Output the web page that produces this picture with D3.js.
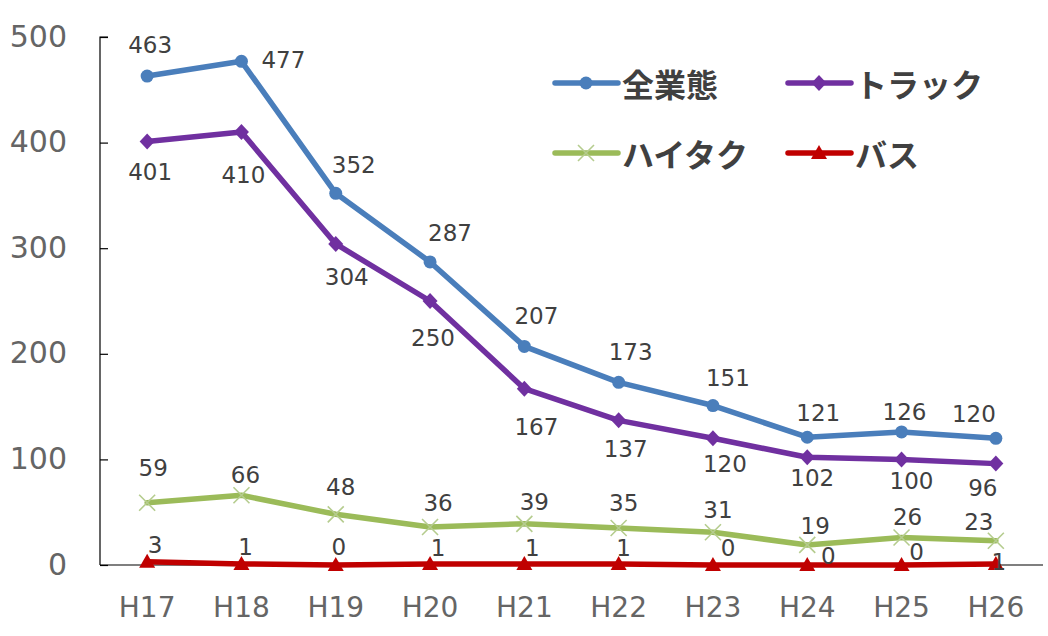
<!DOCTYPE html>
<html>
<head>
<meta charset="utf-8">
<script src="https://cdn.jsdelivr.net/npm/d3@7"></script>
<style>
  html, body { margin: 0; padding: 0; background: #fff; }
  svg { display: block; }
</style>
</head>
<body>
<svg id="chart" width="1048" height="636"></svg>
<script>
// Fiscal years (Heisei)
const years = ["H17", "H18", "H19", "H20", "H21", "H22", "H23", "H24", "H25", "H26"];
const yTicks = [0, 100, 200, 300, 400, 500];

// Counts per business type
const allTypes = [463, 477, 352, 287, 207, 173, 151, 121, 126, 120];
const truck    = [401, 410, 304, 250, 167, 137, 120, 102, 100, 96];
const taxi     = [59, 66, 48, 36, 39, 35, 31, 19, 26, 23];
const bus      = [3, 1, 0, 1, 1, 1, 0, 0, 0, 1];

const seriesNames = ["全業態", "トラック", "ハイタク", "バス"];

// Value-label placement around each point: [dx, dy]
const labelOffsets = [
  [[3,-31],[42,-1],[18,-28],[20,-29],[12,-30],[12,-30],[15,-28],[11,-24],[3,-20],[-22,-24]],
  [[3,30],[2,43],[11,33],[3,37],[12,38],[7,29],[12,26],[5,21],[10,22],[-13,24]],
  [[6,-35],[4,-20],[5,-27],[8,-24],[10,-22],[5,-25],[5,-22],[8,-19],[6,-21],[-17,-19]],
  [[8,-17],[4,-17],[3,-18],[8,-16],[8,-16],[5,-16],[15,-17],[21,-9],[15,-13],[3,-2]]
];

const series = [
  { name: seriesNames[0], values: allTypes, color: "#4a7ebb", marker: "circle" },
  { name: seriesNames[1], values: truck,    color: "#7030a0", marker: "diamond" },
  { name: seriesNames[2], values: taxi,     color: "#9bbb59", marker: "cross" },
  { name: seriesNames[3], values: bus,      color: "#c00000", marker: "triangle" }
];

const numFont = "'DejaVu Sans', sans-serif";

const svg = d3.select("#chart");
const plot = { left: 100, right: 1043, top: 37, bottom: 565 };

const x = d3.scaleBand().domain(years).range([plot.left, plot.right]);
const xc = d => x(d) + x.bandwidth() / 2;
const y = d3.scaleLinear().domain([0, 500]).range([plot.bottom, plot.top]);

// Y axis: line on the left, ticks pointing inward
const yAxis = d3.axisRight(y).tickValues(yTicks).tickSize(8).tickFormat(d3.format("d"));
const gy = svg.append("g").attr("transform", `translate(${plot.left},0)`).call(yAxis);
gy.select(".domain").attr("stroke", "#000").attr("stroke-width", 1.2).attr("d", `M8,${plot.top}H0V${plot.bottom}`);
gy.selectAll(".tick line").attr("stroke", "#000").attr("stroke-width", 1.2);
gy.selectAll(".tick text")
  .attr("x", -33).attr("text-anchor", "end").attr("dy", "0.3em")
  .attr("fill", "#656565")
  .style("font-family", numFont).style("font-size", "30px");

// X axis
const xAxis = d3.axisBottom(x).tickSize(0).tickPadding(32);
const gx = svg.append("g").attr("transform", `translate(0,${plot.bottom})`).call(xAxis);
gx.select(".domain").attr("stroke", "#000").attr("stroke-width", 1.2).attr("d", `M${plot.left},0H${plot.right}`);
gx.selectAll(".tick text")
  .attr("fill", "#656565")
  .style("font-family", numFont).style("font-size", "28px");

// Marker shapes
function drawMarker(g, type, color, cx, cy) {
  if (type === "circle") {
    g.append("circle").attr("cx", cx).attr("cy", cy).attr("r", 6.5).attr("fill", color);
  } else if (type === "diamond") {
    g.append("path").attr("d", `M${cx},${cy-8}L${cx+7.5},${cy}L${cx},${cy+8}L${cx-7.5},${cy}Z`).attr("fill", color);
  } else if (type === "triangle") {
    g.append("path").attr("d", `M${cx},${cy-8}L${cx+8},${cy+6}L${cx-8},${cy+6}Z`).attr("fill", color);
  } else if (type === "cross") {
    g.append("path").attr("d", `M${cx-8},${cy-8}L${cx+8},${cy+8}M${cx+8},${cy-8}L${cx-8},${cy+8}`)
      .attr("stroke", "#b5cc8e").attr("stroke-width", 1.6).attr("fill", "none");
  }
}

const line = d3.line().x((d, i) => xc(years[i])).y(d => y(d));

series.forEach((s, si) => {
  const g = svg.append("g");
  g.append("path").datum(s.values).attr("d", line)
    .attr("fill", "none").attr("stroke", s.color).attr("stroke-width", 5.5)
    .attr("stroke-linejoin", "round").attr("stroke-linecap", "round");
  s.values.forEach((v, i) => drawMarker(g, s.marker, s.color, xc(years[i]), y(v)));
});

// Value labels
series.forEach((s, si) => {
  svg.append("g").selectAll("text").data(s.values).join("text")
    .attr("x", (d, i) => xc(years[i]) + labelOffsets[si][i][0])
    .attr("y", (d, i) => y(d) + labelOffsets[si][i][1])
    .attr("text-anchor", "middle").attr("dominant-baseline", "central")
    .attr("fill", "#404040")
    .style("font-family", numFont).style("font-size", "23px")
    .text(d => d);
});

// Legend (two columns, two rows)
const legendPos = [[555, 83], [788, 83], [555, 153], [788, 153]];
series.forEach((s, si) => {
  const [lx, ly] = legendPos[si];
  const g = svg.append("g");
  g.append("line").attr("x1", lx).attr("x2", lx + 63).attr("y1", ly).attr("y2", ly)
    .attr("stroke", s.color).attr("stroke-width", 5.5).attr("stroke-linecap", "round");
  drawMarker(g, s.marker, s.color, lx + 31, ly);
  g.append("text").attr("x", lx + 67).attr("y", ly).attr("dominant-baseline", "central")
    .attr("fill", "#404040")
    .style("font-family", "'Noto Sans CJK JP', sans-serif").style("font-size", "32px").style("font-weight", "bold")
    .text(s.name);
});
</script>
</body>
</html>
